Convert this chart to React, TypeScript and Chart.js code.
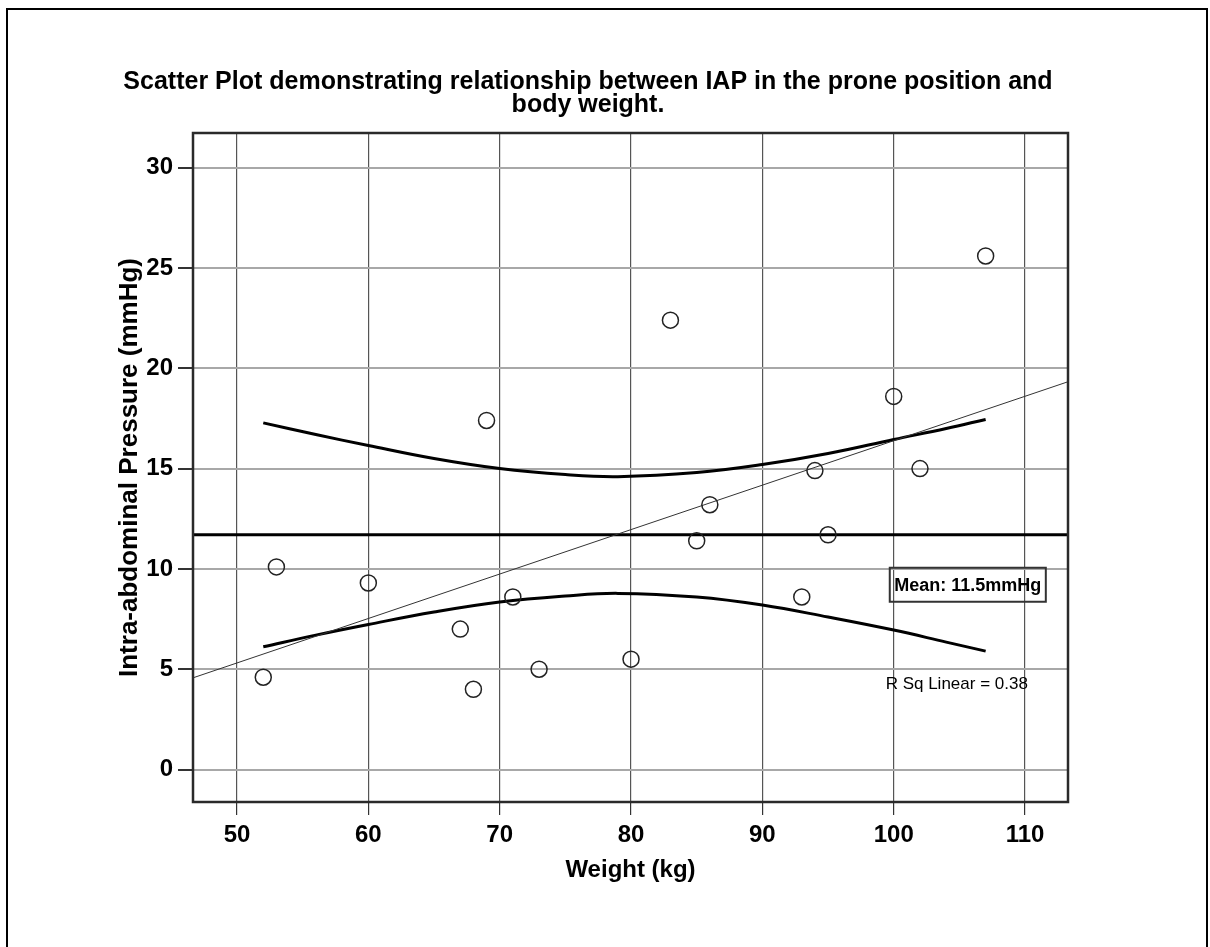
import React, { useEffect, useRef } from "react";
import { Chart, registerables } from "chart.js";

Chart.register(...registerables);

// ---- data ----
const weightKg = [52, 53, 60, 67, 68, 69, 71, 73, 80, 83, 85, 86, 93, 94, 95, 100, 102, 107];
const iapMmHg = [4.6, 10.1, 9.3, 7.0, 4.0, 17.4, 8.6, 5.0, 5.5, 22.4, 11.4, 13.2, 8.6, 14.9, 11.7, 18.6, 15.0, 25.6];

const fitX = [46.65, 113.27];
const fitY = [4.57, 19.33];

const meanX = [46.65, 113.27];
const meanY = [11.7, 11.7];

const bandX = [52, 56, 60, 65, 70, 75, 79, 85, 90, 95, 100, 104, 107];
const bandUpper = [17.28, 16.7, 16.15, 15.5, 15.0, 14.7, 14.6, 14.8, 15.2, 15.75, 16.45, 17.0, 17.45];
const bandLower = [6.12, 6.7, 7.23, 7.85, 8.35, 8.65, 8.78, 8.6, 8.2, 7.6, 6.95, 6.35, 5.9];

const xTicks = [50, 60, 70, 80, 90, 100, 110];
const yTicks = [0, 5, 10, 15, 20, 25, 30];

const titleLines = [
  "Scatter Plot demonstrating relationship between IAP in the prone position and",
  "body weight.",
];
const xTitle = "Weight (kg)";
const yTitle = "Intra-abdominal Pressure (mmHg)";
const meanLabel = "Mean: 11.5mmHg";
const rsqLabel = "R Sq Linear = 0.38";

const FONT = '"Liberation Sans", Arial, Helvetica, sans-serif';

const toPts = (xs: number[], ys: number[]) => xs.map((x, i) => ({ x, y: ys[i] }));

const decorPlugin = {
  id: "decor",
  afterDatasetsDraw(chart: any) {
    const { ctx, chartArea: a, scales } = chart;
    ctx.save();
    // plot frame
    ctx.strokeStyle = "#2a2a2a";
    ctx.lineWidth = 2.5;
    ctx.strokeRect(a.left, a.top, a.right - a.left, a.bottom - a.top);

    // mean label box
    const mx = scales.x.getPixelForValue(105.64);
    const my = scales.y.getPixelForValue(9.21);
    ctx.font = `bold 18px ${FONT}`;
    ctx.fillStyle = "#000";
    ctx.textAlign = "center";
    ctx.textBaseline = "middle";
    const w = ctx.measureText(meanLabel).width + 9;
    ctx.lineWidth = 2;
    ctx.strokeStyle = "#333";
    ctx.strokeRect(mx - w / 2, my - 17, w, 34);
    ctx.fillText(meanLabel, mx, my + 1);

    // R squared
    const rx = scales.x.getPixelForValue(104.8);
    const ry = scales.y.getPixelForValue(4.26);
    ctx.font = `17px ${FONT}`;
    ctx.fillText(rsqLabel, rx, ry);
    ctx.restore();
  },
  afterDraw(chart: any) {
    const { ctx } = chart;
    ctx.save();
    ctx.font = `bold 25px ${FONT}`;
    ctx.fillStyle = "#000";
    ctx.textAlign = "center";
    ctx.textBaseline = "alphabetic";
    ctx.fillText(titleLines[0], 588, 89);
    ctx.fillText(titleLines[1], 588, 112);
    // outer border
    ctx.strokeStyle = "#000";
    ctx.lineWidth = 2;
    ctx.strokeRect(7, 9, 1200, 945);
    ctx.restore();
  },
};

export default function App() {
  const ref = useRef<HTMLCanvasElement>(null);
  useEffect(() => {
    document.body.style.margin = "0";
    const chart = new Chart(ref.current as HTMLCanvasElement, {
      type: "scatter",
      data: {
        datasets: [
          {
            label: "IAP",
            data: toPts(weightKg, iapMmHg),
            pointRadius: 8,
            pointHoverRadius: 8,
            borderWidth: 1.5,
            borderColor: "#222",
            backgroundColor: "rgba(0,0,0,0)",
          },
          {
            type: "line",
            label: "Linear fit",
            data: toPts(fitX, fitY),
            borderColor: "#333",
            borderWidth: 1,
            pointRadius: 0,
            fill: false,
          },
          {
            type: "line",
            label: "Mean",
            data: toPts(meanX, meanY),
            borderColor: "#000",
            borderWidth: 3,
            pointRadius: 0,
            fill: false,
          },
          {
            type: "line",
            label: "Upper",
            data: toPts(bandX, bandUpper),
            borderColor: "#000",
            borderWidth: 3,
            pointRadius: 0,
            tension: 0.4,
            fill: false,
          },
          {
            type: "line",
            label: "Lower",
            data: toPts(bandX, bandLower),
            borderColor: "#000",
            borderWidth: 3,
            pointRadius: 0,
            tension: 0.4,
            fill: false,
          },
        ],
      } as any,
      options: {
        responsive: false,
        animation: false,
        devicePixelRatio: 1,
        layout: { padding: { top: 133, right: 142, left: 0, bottom: 0 } },
        plugins: {
          legend: { display: false },
          tooltip: { enabled: false },
          title: { display: false },
        },
        scales: {
          x: {
            type: "linear",
            min: 46.65,
            max: 113.27,
            afterBuildTicks: (s: any) => {
              s.ticks = xTicks.map((v) => ({ value: v }));
            },
            afterFit: (s: any) => {
              s.height = 145;
            },
            border: { display: false },
            grid: {
              color: "#555",
              lineWidth: 1.2,
              tickColor: "#333",
              tickLength: 13,
            },
            ticks: {
              color: "#000",
              padding: 6,
              font: { family: FONT, size: 24, weight: "bold" },
              maxRotation: 0,
            },
            title: {
              display: true,
              text: xTitle,
              color: "#000",
              font: { family: FONT, size: 24, weight: "bold" },
              padding: { top: 0, bottom: 62.6 },
            },
          },
          y: {
            type: "linear",
            min: -1.62,
            max: 31.73,
            afterBuildTicks: (s: any) => {
              s.ticks = yTicks.map((v) => ({ value: v }));
            },
            afterFit: (s: any) => {
              s.width = 193;
            },
            border: { display: false },
            grid: {
              color: "#a8a8a8",
              lineWidth: 2,
              tickColor: "#333",
              tickLength: 15,
            },
            ticks: {
              color: "#000",
              padding: 5,
              font: { family: FONT, size: 24, weight: "bold" },
            },
            title: {
              display: true,
              text: yTitle,
              color: "#000",
              font: { family: FONT, size: 26, weight: "bold" },
              padding: { top: 114.4, bottom: 0 },
            },
          },
        },
      } as any,
      plugins: [decorPlugin],
    });
    return () => chart.destroy();
  }, []);

  return (
    <div style={{ width: 1210, height: 947, background: "#fff", position: "relative" }}>
      <canvas ref={ref} width={1210} height={947} style={{ display: "block" }} />
    </div>
  );
}
